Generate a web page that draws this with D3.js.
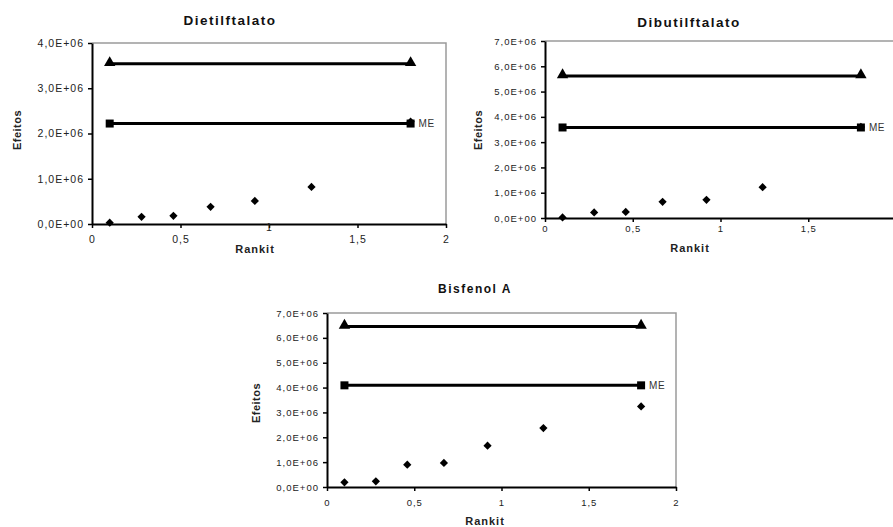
<!DOCTYPE html>
<html>
<head>
<meta charset="utf-8">
<script src="https://cdn.jsdelivr.net/npm/d3@7"></script>
<style>
  body { margin: 0; background: #fff; }
  text { font-family: "Liberation Sans", Arial, sans-serif; }
</style>
</head>
<body>
<svg id="fig" width="893" height="527"></svg>
<script>
// half-normal rankits (x) shared by all three plots
const rankit = [0.1, 0.28, 0.46, 0.67, 0.92, 1.24, 1.8];
const limitX = [0.1, 1.8];

const dietilEffects = [0.03e6, 0.16e6, 0.18e6, 0.38e6, 0.51e6, 0.82e6, 2.26e6];
const dietilME = 2.22e6;
const dietilSME = 3.54e6;

const dibutilEffects = [0.02e6, 0.22e6, 0.24e6, 0.64e6, 0.72e6, 1.22e6, 3.6e6];
const dibutilME = 3.58e6;
const dibutilSME = 5.62e6;

const bisfenolEffects = [0.19e6, 0.23e6, 0.9e6, 0.97e6, 1.66e6, 2.37e6, 3.24e6];
const bisfenolME = 4.09e6;
const bisfenolSME = 6.46e6;

const xTicks = [0, 0.5, 1, 1.5, 2];

const svg = d3.select("#fig");

const yFmt = (v) =>
  v === 0 ? "0,0E+00" : d3.format(".1f")(v / 1e6).replace(".", ",") + "E+06";
const xFmt = (v) => String(v).replace(".", ",");

function drawChart(cfg) {
  const g = svg.append("g");
  const x = d3.scaleLinear().domain([0, 2]).range([cfg.left, cfg.right]);
  const y = d3.scaleLinear().domain([0, cfg.yMax]).range([cfg.bottom, cfg.top]);

  // gray frame (top + right)
  g.append("path")
    .attr("d", `M${cfg.left},${cfg.top}H${cfg.right}V${cfg.bottom}`)
    .attr("fill", "none")
    .attr("stroke", "#9a9a9a")
    .attr("stroke-width", 1.5);

  const yAxis = g.append("g")
    .attr("transform", `translate(${cfg.left},0)`)
    .call(d3.axisLeft(y)
      .tickValues(d3.range(0, cfg.yMax + 1, 1e6))
      .tickSize(4)
      .tickSizeOuter(0)
      .tickPadding(4)
      .tickFormat(yFmt));

  const xAxis = g.append("g")
    .attr("transform", `translate(0,${cfg.bottom})`)
    .call(d3.axisBottom(x)
      .tickValues(xTicks)
      .tickSize(4)
      .tickSizeOuter(0)
      .tickPadding(cfg.xPad)
      .tickFormat(xFmt));

  [yAxis, xAxis].forEach((a) => {
    a.select(".domain").attr("stroke", "#000").attr("stroke-width", 2);
    a.selectAll(".tick line").attr("stroke", "#000").attr("stroke-width", 1.5);
    a.selectAll("text")
      .attr("fill", "#222")
      .style("font-size", cfg.tickFont + "px")
      .style("letter-spacing", "1px");
  });

  // the "1" under the first plot sits higher in the original
  if (cfg.liftOne) {
    xAxis.selectAll(".tick text")
      .filter((d) => d === 1)
      .attr("dy", "0.71em")
      .attr("y", cfg.xPad - 8);
  }

  // effects (diamonds)
  g.selectAll(".eff")
    .data(rankit.map((r, i) => [r, cfg.effects[i]]))
    .enter()
    .append("path")
    .attr("d", d3.symbol(d3.symbolSquare, 34))
    .attr("transform", (d) => `translate(${x(d[0])},${y(d[1])}) rotate(45)`)
    .attr("fill", "#000");

  const line = d3.line().x((d) => x(d[0])).y((d) => y(d[1]));

  // SME line with triangles, ME line with squares
  [[cfg.sme, d3.symbolTriangle, 56], [cfg.me, d3.symbolSquare, 64]].forEach(
    ([val, sym, size]) => {
      const pts = limitX.map((v) => [v, val]);
      g.append("path")
        .attr("d", line(pts))
        .attr("fill", "none")
        .attr("stroke", "#000")
        .attr("stroke-width", 3);
      g.selectAll(null)
        .data(pts)
        .enter()
        .append("path")
        .attr("d", d3.symbol(sym, size))
        .attr("transform", (d) => `translate(${x(d[0])},${y(d[1]) - (sym === d3.symbolTriangle ? 1 : 0)})`)
        .attr("fill", "#000");
    }
  );

  g.append("text")
    .attr("x", x(limitX[1]) + 8)
    .attr("y", y(cfg.me) + 1)
    .attr("dominant-baseline", "middle")
    .attr("fill", "#333")
    .style("font-size", "10px")
    .style("letter-spacing", "0.5px")
    .text("ME");

  g.append("text")
    .attr("x", cfg.titleX)
    .attr("y", cfg.titleY)
    .attr("text-anchor", "middle")
    .style("font-size", cfg.titleFont + "px")
    .style("font-weight", "bold")
    .style("letter-spacing", "1.5px")
    .attr("fill", "#111")
    .text(cfg.title);

  g.append("text")
    .attr("x", cfg.xLabelX)
    .attr("y", cfg.xLabelY)
    .attr("text-anchor", "middle")
    .style("font-size", cfg.labelFont + "px")
    .style("font-weight", "bold")
    .style("letter-spacing", "1px")
    .attr("fill", "#222")
    .text("Rankit");

  g.append("text")
    .attr("transform", `translate(${cfg.yLabelX},${cfg.yLabelY}) rotate(-90)`)
    .attr("text-anchor", "middle")
    .style("font-size", cfg.labelFont + "px")
    .style("font-weight", "bold")
    .style("letter-spacing", "0.5px")
    .attr("fill", "#222")
    .text("Efeitos");
}

drawChart({
  title: "Dietilftalato", effects: dietilEffects, me: dietilME, sme: dietilSME,
  yMax: 4e6, left: 92, right: 446, top: 43, bottom: 224, xPad: 8, liftOne: true,
  tickFont: 10.5, titleFont: 13.5, labelFont: 11,
  titleX: 230, titleY: 25, xLabelX: 255, xLabelY: 253, yLabelX: 21, yLabelY: 130
});

drawChart({
  title: "Dibutilftalato", effects: dibutilEffects, me: dibutilME, sme: dibutilSME,
  yMax: 7e6, left: 545, right: 896, top: 41, bottom: 218, xPad: 3,
  tickFont: 9.5, titleFont: 13.5, labelFont: 11,
  titleX: 689, titleY: 27, xLabelX: 690, xLabelY: 252, yLabelX: 482, yLabelY: 130
});

drawChart({
  title: "Bisfenol A", effects: bisfenolEffects, me: bisfenolME, sme: bisfenolSME,
  yMax: 7e6, left: 327, right: 676, top: 313, bottom: 487, xPad: 8,
  tickFont: 9.5, titleFont: 12, labelFont: 11,
  titleX: 475, titleY: 293, xLabelX: 485, xLabelY: 525, yLabelX: 260, yLabelY: 403
});
</script>
</body>
</html>
